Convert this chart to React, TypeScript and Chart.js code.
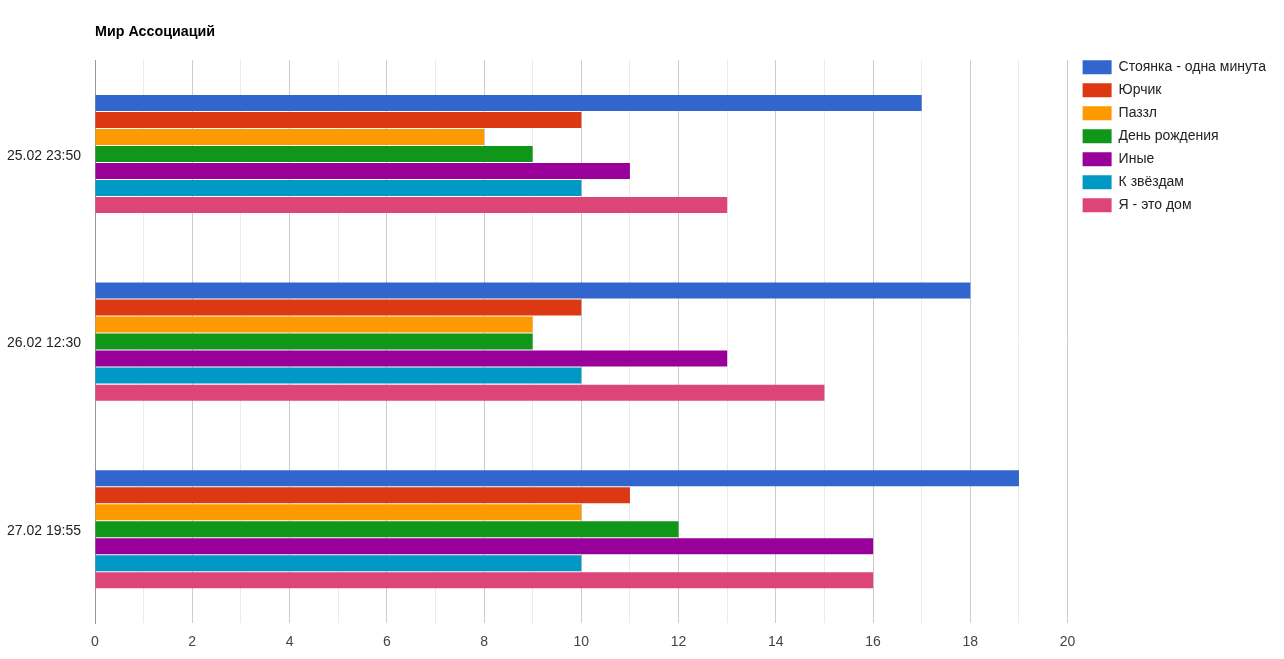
import React, { useEffect, useRef } from "react";
import { Chart, registerables } from "chart.js";

Chart.register(...registerables);

const title = "Мир Ассоциаций";
const categories = ["25.02 23:50", "26.02 12:30", "27.02 19:55"];
const seriesNames = [
  "Стоянка - одна минута",
  "Юрчик",
  "Паззл",
  "День рождения",
  "Иные",
  "К звёздам",
  "Я - это дом",
];
const seriesColors = ["#3366cc", "#dc3912", "#ff9900", "#109618", "#990099", "#0099c6", "#dd4477"];
const stoyanka = [17, 18, 19];
const yurchik = [10, 10, 11];
const pazzl = [8, 9, 10];
const denRozhdeniya = [9, 9, 12];
const inye = [11, 13, 16];
const kZvezdam = [10, 10, 10];
const yaEtoDom = [13, 15, 16];
const seriesValues = [stoyanka, yurchik, pazzl, denRozhdeniya, inye, kZvezdam, yaEtoDom];
const xMin = 0;
const xMax = 20;

const FONT = "Arial, 'Liberation Sans', sans-serif";

const legendPlace = {
  id: "legendPlace",
  afterLayout(chart: any) {
    const l = chart.legend;
    const ca = chart.chartArea;
    if (!l || !ca) return;
    l.top = ca.top - 9;
    l.bottom = l.top + l.height;
    l.left = ca.right + 6;
    l.right = l.left + l.width;
  },
};

export default function App() {
  const ref = useRef<HTMLCanvasElement | null>(null);
  useEffect(() => {
    if (!ref.current) return;
    const chart = new Chart(ref.current, {
      type: "bar",
      data: {
        labels: categories,
        datasets: seriesNames.map((name, i) => ({
          label: name,
          data: seriesValues[i],
          backgroundColor: seriesColors[i],
          borderWidth: 0,
          categoryPercentage: 0.635,
          barPercentage: 0.94,
        })),
      },
      options: {
        indexAxis: "y",
        animation: false,
        responsive: false,
        devicePixelRatio: 1,
        layout: { padding: { left: 5, right: 14, top: 0, bottom: 9 } },
        plugins: {
          title: {
            display: true,
            text: title,
            align: "start",
            fullSize: false,
            color: "#000",
            font: { family: FONT, size: 14.3, weight: "bold" },
            padding: { top: 23, bottom: 20 },
          },
          legend: {
            position: "right",
            align: "start",
            labels: {
              boxWidth: 29,
              boxHeight: 14,
              padding: 9,
              color: "#222",
              font: { family: FONT, size: 14 },
            },
          },
          tooltip: { enabled: false },
        },
        scales: {
          x: {
            min: xMin,
            max: xMax,
            border: { display: false },
            afterFit: (scale: any) => {
              scale.height = 27;
            },
            grid: {
              drawTicks: false,
              color: (ctx: any) => {
                const v = ctx.tick ? ctx.tick.value : 0;
                if (v === 0) return "rgba(0,0,0,0)";
                return v % 2 === 0 ? "#cccccc" : "#ebebeb";
              },
            },
            ticks: {
              stepSize: 1,
              autoSkip: false,
              maxRotation: 0,
              padding: 11,
              color: "#444",
              font: { family: FONT, size: 14 },
              callback: (v: any) => (Number(v) % 2 === 0 ? String(v) : ""),
            },
          },
          y: {
            afterFit: (scale: any) => {
              scale.width = 90;
            },
            grid: { display: false, drawTicks: false },
            border: { display: true, color: "#999999", width: 1 },
            ticks: {
              padding: 14,
              labelOffset: 2,
              color: "#222",
              font: { family: FONT, size: 14 },
            },
          },
        },
      },
      plugins: [legendPlace],
    });
    return () => chart.destroy();
  }, []);
  return (
    <div style={{ position: "fixed", left: 0, top: 0, width: 1284, height: 659, background: "#fff" }}>
      <canvas ref={ref} width={1284} height={659} />
    </div>
  );
}
